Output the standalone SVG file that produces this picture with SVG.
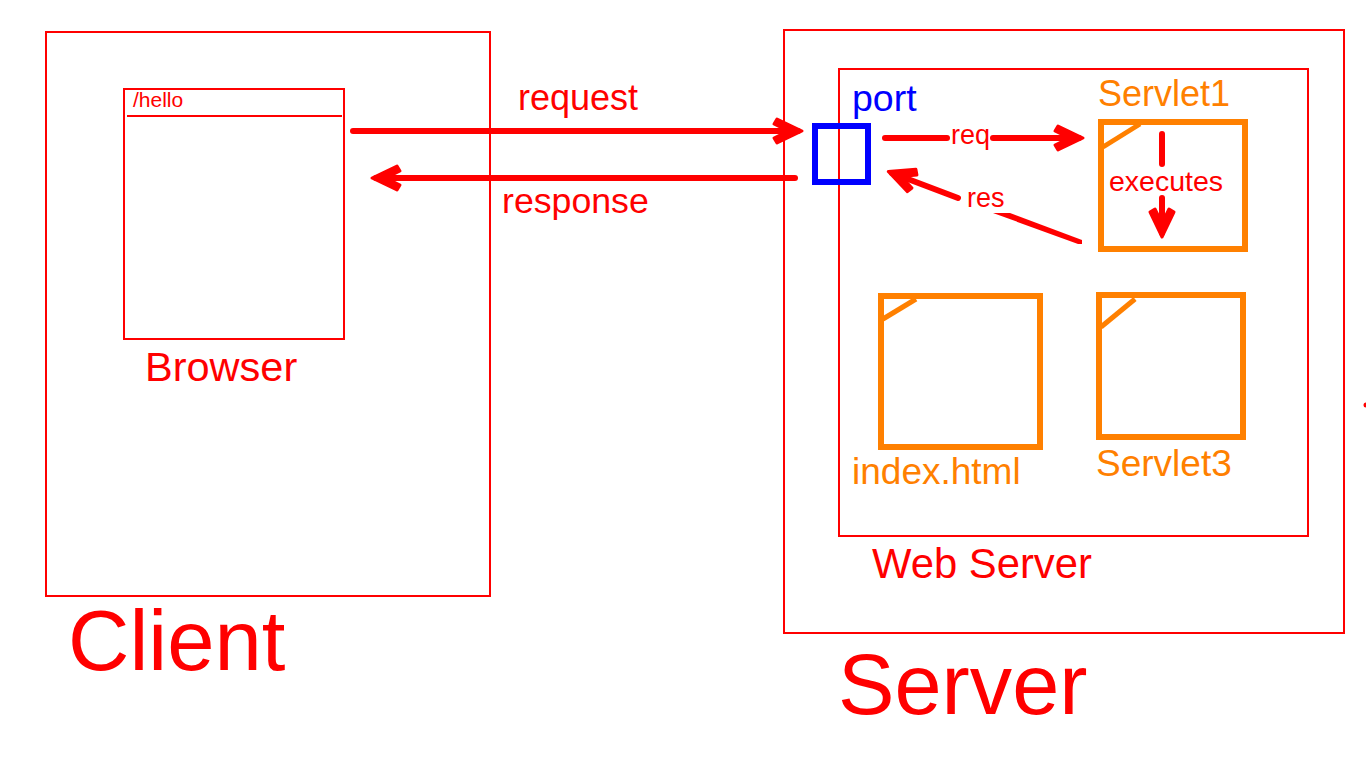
<svg xmlns="http://www.w3.org/2000/svg" width="1366" height="768" viewBox="0 0 1366 768">
<style>
text{font-family:"Liberation Sans",Arial,sans-serif}
.r{fill:#f00}.o{fill:#ff8000}.b{fill:#00f}
.box{fill:none;stroke:#f00;stroke-width:2;shape-rendering:crispEdges}
.doc{fill:none;stroke:#ff8000;stroke-width:6;shape-rendering:crispEdges}
.fold{fill:none;stroke:#ff8000;stroke-width:5}
.c{fill:none;stroke:#f00;stroke-width:6;stroke-linecap:round}
.h{marker-end:url(#ah)}
</style>
<defs>
<marker id="ah" markerUnits="userSpaceOnUse" markerWidth="44" markerHeight="44" refX="32" refY="22" orient="auto">
<path d="M36,22 L11,10 L8,15 L20,21 V23 L8,29 L11,34 Z" fill="#f00" stroke="#f00" stroke-width="3" stroke-linejoin="round"/>
</marker>
</defs>
<g id="client"><rect class="box" x="46" y="32" width="444" height="564"/>
<text class="r" x="68" y="670" font-size="85">Client</text></g>
<g id="browser"><rect class="box" x="124" y="89" width="220" height="250"/>
<path class="box" d="M127,116H342"/>
<text class="r" x="133" y="107" font-size="21">/hello</text>
<text class="r" x="145" y="381" font-size="41.5">Browser</text></g>
<g id="server"><rect class="box" x="784" y="30" width="560" height="603"/>
<text class="r" x="838" y="714" font-size="84.7">Server</text></g>
<g id="web-server"><rect class="box" x="839" y="69" width="469" height="467"/>
<text class="r" x="872" y="578" font-size="41.8">Web Server</text></g>
<g id="port"><rect x="815" y="126" width="53" height="56" fill="none" stroke="#00f" stroke-width="6" shape-rendering="crispEdges"/>
<text class="b" x="852" y="111" font-size="37.5">port</text></g>
<g id="servlet1"><rect class="doc" x="1101" y="122" width="144" height="127"/>
<path class="fold" d="M1103,147L1140,124"/>
<text class="o" x="1098" y="106" font-size="36">Servlet1</text></g>
<g id="index-html"><rect class="doc" x="881" y="296" width="159" height="151"/>
<path class="fold" d="M883,319L916,299"/>
<text class="o" x="852" y="484" font-size="37">index.html</text></g>
<g id="servlet3"><rect class="doc" x="1099" y="295" width="144" height="142"/>
<path class="fold" d="M1101,327L1135,299"/>
<text class="o" x="1096" y="476" font-size="37">Servlet3</text></g>
<g id="connectors">
<path class="c h" d="M353,131H798"/>
<path class="c h" d="M795,178H376"/>
<path class="c" d="M885,138H947"/>
<path class="c h" d="M993,138H1079"/>
<path class="c h" d="M958,198L892,173"/>
<path fill="#f00" d="M993,213H1010L1082,240V244H1078Z"/>
<path class="c" d="M1162,134V164"/>
<path class="c h" d="M1162,198V233"/>
<text class="r" x="951" y="144" font-size="27">req</text>
<text class="r" x="967" y="207" font-size="27">res</text>
<text class="r" x="1109" y="191" font-size="28.5">executes</text>
<text class="r" x="518" y="110" font-size="36">request</text>
<text class="r" x="502" y="213" font-size="35.7">response</text>
</g>
<circle cx="1366" cy="405" r="2.5" fill="#f00"/>
</svg>
